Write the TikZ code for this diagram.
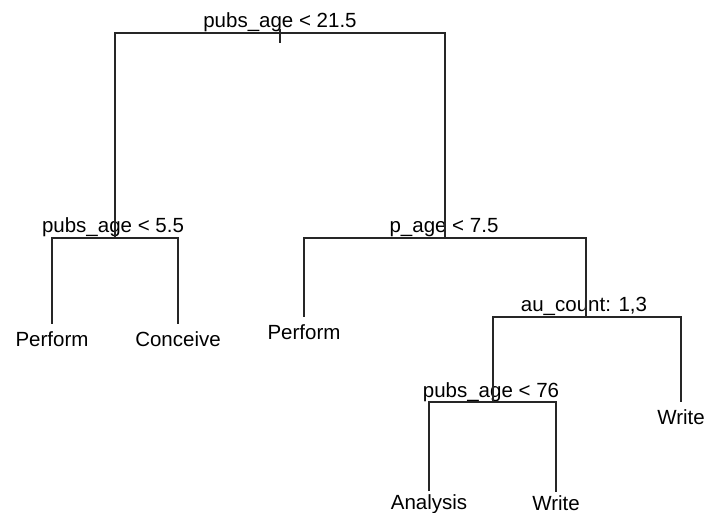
\documentclass[tikz,border=0pt]{standalone}
\usepackage{fontspec}
\setmainfont{Liberation Sans}
\usepackage{tikz}

\tikzset{
  split/.style={anchor=base, inner sep=0pt},
  leaf/.style={anchor=north, inner sep=7pt},
  edge/.style={line width=1.1pt, black!85}
}

\begin{document}
\begin{tikzpicture}[x=1pt, y=-1pt, font=\fontsize{20.5}{24}\selectfont]
   \useasboundingbox (0,0) rectangle (705,513);
   % split points
   \coordinate (root) at (280,33);
   \coordinate (s1) at (115,238);
   \coordinate (s2) at (445,238);
   \coordinate (s3) at (586,317);
   \coordinate (s4) at (493,402);
   \coordinate (rtop) at (280,29);
   \coordinate (rbot) at (280,43);
   % split labels
   \node[split] (lroot) at (280,28) {pubs\_age < 21.5};
   \node[split] (ls1) at (113,233) {pubs\_age < 5.5};
   \node[split] (ls2) at (444,233) {p\_age < 7.5};
   \node[split] (ls3) at (584,312) {au\_count: 1,3};
   \node[split] (ls4) at (491,397) {pubs\_age < 76};
   % leaves
   \node[leaf] (perf1) at (52,324) {Perform};
   \node[leaf] (conc) at (178,324) {Conceive};
   \node[leaf] (perf2) at (304,317) {Perform};
   \node[leaf] (write1) at (681,402) {Write};
   \node[leaf, inner sep=3pt] (anal) at (429,491) {Analysis};
   \node[leaf, inner sep=3pt] (write2) at (556,492) {Write};
   % branches
   \draw[edge] (rtop) -- (rbot);
   \draw[edge] (s1) |- (root) -| (s2);
   \draw[edge] (perf1.north) |- (s1) -| (conc.north);
   \draw[edge] (perf2.north) |- (s2) -| (s3);
   \draw[edge] (s4) |- (s3) -| (write1.north);
   \draw[edge] (anal.north) |- (s4) -| (write2.north);
\end{tikzpicture}
\end{document}
